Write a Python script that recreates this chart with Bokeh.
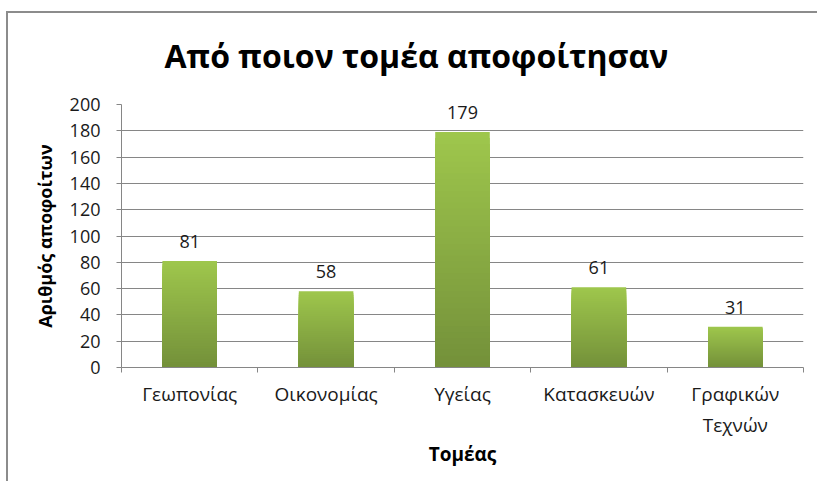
from bokeh.plotting import figure
from bokeh.models import (ColumnDataSource, Range1d, LinearAxis,
                          FixedTicker, LabelSet, Title)
from bokeh.core.properties import value
from bokeh.embed import file_html
from bokeh.resources import INLINE

# ---- data ----
categories = ["Γεωπονίας", "Οικονομίας", "Υγείας", "Κατασκευών", "Γραφικών Τεχνών"]
graduates = [81, 58, 179, 61, 31]
y_ticks = [0, 20, 40, 60, 80, 100, 120, 140, 160, 180, 200]
chart_title = "Από ποιον τομέα αποφοίτησαν"
x_title = "Τομέας"
y_title = "Αριθμός αποφοίτων"

FONT = "Open Sans"
GRID = "#868686"
TEXT = "#1a1a1a"
TOP_RGB = (158, 198, 76)
BOT_RGB = (116, 145, 58)

n = len(categories)
centers = [i + 0.5 for i in range(n)]          # category slot centres on the x scale
display_names = {"Γραφικών Τεχνών": "Γραφικών\nΤεχνών"}

p = figure(width=811, height=470,
           x_range=Range1d(0, n),
           y_range=Range1d(0, 200),
           output_backend="svg", toolbar_location=None,
           x_axis_location=None, y_axis_location="left",
           min_border_left=113, min_border_right=16,
           min_border_top=91, min_border_bottom=116)
p.margin = (13, 0, 0, 8)
p.outline_line_color = None
p.background_fill_color = "white"
p.border_fill_color = "white"
p.styles = {"box-shadow": "-2px -2px 0px 0px #8c8c8c"}

# spacer between the plot area and the title, then the title itself
p.title.text = ""
p.title.visible = False
p.add_layout(Title(text=" ", text_font_size="1px", standoff=25), "above")
p.add_layout(Title(text=chart_title, align="left", offset=43, standoff=0,
                   text_font=FONT, text_font_size="32px", text_font_style="bold",
                   text_color="black"), "above")

# y axis
yax = p.yaxis[0]
yax.ticker = FixedTicker(ticks=y_ticks)
yax.major_tick_in = 0
yax.major_tick_out = 5
yax.minor_tick_line_color = None
yax.axis_line_color = GRID
yax.major_tick_line_color = GRID
yax.major_label_text_font = FONT
yax.major_label_text_font_size = "18px"
yax.major_label_text_color = TEXT
yax.major_label_standoff = 16
yax.axis_label = y_title
yax.axis_label_text_font = FONT
yax.axis_label_text_font_size = "18px"
yax.axis_label_text_font_style = "bold"
yax.axis_label_text_color = "black"
yax.axis_label_standoff = 10

for g in p.ygrid:
    g.ticker = FixedTicker(ticks=y_ticks)
    g.grid_line_color = GRID
for g in p.xgrid:
    g.visible = False

# x axis line with tick marks at the category boundaries
edge_axis = LinearAxis(ticker=FixedTicker(ticks=list(range(n + 1))),
                       major_label_overrides={i: "" for i in range(n + 1)},
                       major_label_text_font_size="0px",
                       major_label_standoff=0,
                       major_tick_in=0, major_tick_out=5,
                       minor_tick_line_color=None,
                       axis_line_color=GRID, major_tick_line_color=GRID)
p.add_layout(edge_axis, "below")

# category names under the slot centres
cat_axis = LinearAxis(ticker=FixedTicker(ticks=centers),
                      major_label_overrides={c: display_names.get(name, name)
                                             for c, name in zip(centers, categories)},
                      axis_line_color=None, major_tick_line_color=None,
                      minor_tick_line_color=None,
                      major_label_standoff=2,
                      major_label_text_font=FONT,
                      major_label_text_font_size="19px",
                      major_label_text_color=TEXT,
                      axis_label=x_title,
                      axis_label_text_font=FONT,
                      axis_label_text_font_size="19px",
                      axis_label_text_font_style="bold",
                      axis_label_text_color="black",
                      axis_label_standoff=0)
p.add_layout(cat_axis, "below")

# bars with a vertical gradient (light top, dark bottom) built from stacked layers
N = 40
xs, tops, cols = [], [], []
for i in range(N):
    frac = 1 - i / N
    t = i / (N - 1)
    r, g_, b = (round(TOP_RGB[k] + (BOT_RGB[k] - TOP_RGB[k]) * t) for k in range(3))
    for c, v in zip(centers, graduates):
        xs.append(c)
        tops.append(v * frac)
        cols.append("#%02x%02x%02x" % (r, g_, b))
bar_src = ColumnDataSource(dict(x=xs, top=tops, color=cols))
p.vbar(x="x", top="top", width=0.4, source=bar_src, fill_color="color", line_color=None)

# value labels
lab_src = ColumnDataSource(dict(x=centers, y=graduates, t=[str(v) for v in graduates]))
p.add_layout(LabelSet(x="x", y="y", text="t", source=lab_src, text_align="center",
                      text_baseline="bottom", y_offset=13, text_font=value(FONT),
                      text_font_size="18px", text_color=TEXT))

open("out.html", "w").write(file_html(p, INLINE))
